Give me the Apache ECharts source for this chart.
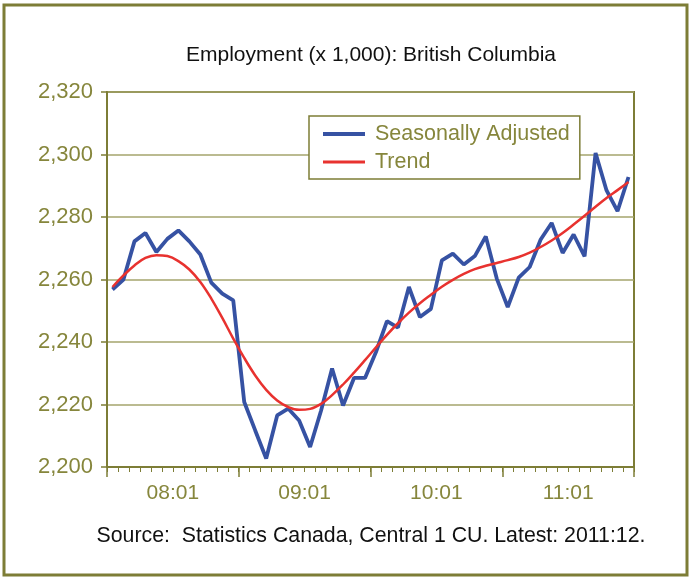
<!DOCTYPE html>
<html>
<head>
<meta charset="utf-8">
<script src="https://cdn.jsdelivr.net/npm/echarts@6/dist/echarts.min.js"></script>
<style>
  html, body { margin: 0; padding: 0; background: #fff; }
  #chart { width: 691px; height: 579px; }
</style>
</head>
<body>
<div id="chart"></div>
<script>
// monthly categories 2008:01 .. 2011:12
const years = ['08', '09', '10', '11']
const months = []
years.forEach(y => {
  for (let m = 1; m <= 12; m++) months.push(y + ':' + String(m).padStart(2, '0'))
})
const yearLabels = ['08:01', '09:01', '10:01', '11:01']

const seasonallyAdjusted = [
  2256.8, 2260.0, 2272.2, 2274.9, 2268.8, 2273.0, 2275.7, 2272.2, 2268.0, 2259.0, 2255.5, 2253.3,
  2220.8, 2211.7, 2202.7, 2216.5, 2218.7, 2214.9, 2206.4, 2218.1, 2231.5, 2219.7, 2228.5, 2228.5,
  2236.8, 2246.7, 2244.6, 2257.6, 2248.0, 2250.6, 2266.1, 2268.3, 2264.8, 2267.5, 2273.8, 2260.3,
  2251.2, 2260.6, 2264.0, 2272.8, 2278.1, 2268.5, 2274.4, 2267.4, 2300.5, 2288.5, 2281.9, 2292.8
]
const trend = [
  2257.6, 2261.3, 2264.5, 2266.9, 2267.8, 2267.5, 2265.9, 2263.2, 2259.2, 2253.9, 2247.7, 2241.1,
  2234.9, 2229.3, 2224.7, 2221.3, 2219.2, 2218.3, 2218.6, 2220.2, 2223.0, 2226.4, 2230.2, 2234.2,
  2238.3, 2242.3, 2246.0, 2249.4, 2252.4, 2255.1, 2257.7, 2259.9, 2261.8, 2263.3, 2264.4, 2265.3,
  2266.2, 2267.2, 2268.6, 2270.4, 2272.5, 2274.9, 2277.6, 2280.4, 2283.3, 2286.1, 2288.6, 2291.2
]

const olive = '#7d7d36'
const oliveText = '#86863c'
const font = 'Liberation Sans, Arial, sans-serif'

const chart = echarts.init(document.getElementById('chart'))

chart.setOption({
  backgroundColor: '#fff',
  animation: false,
  textStyle: { fontFamily: font },
  graphic: [
    {
      type: 'rect',
      shape: { x: 4, y: 5, width: 683, height: 570 },
      style: { fill: 'none', stroke: olive, lineWidth: 3 }
    },
    {
      type: 'text',
      x: 371, y: 55,
      style: {
        text: 'Employment (x 1,000): British Columbia',
        fill: '#111', fontSize: 21, fontFamily: font,
        align: 'center', verticalAlign: 'middle'
      }
    },
    {
      type: 'text',
      x: 371, y: 536,
      style: {
        text: 'Source:  Statistics Canada, Central 1 CU. Latest: 2011:12.',
        fill: '#111', fontSize: 21.3, fontFamily: font,
        align: 'center', verticalAlign: 'middle'
      }
    }
  ],
  grid: {
    left: 107, right: 57, top: 92, bottom: 112,
    show: true, borderColor: olive, borderWidth: 2
  },
  legend: {
    left: 309, top: 116,
    orient: 'vertical',
    backgroundColor: '#fff',
    borderColor: olive, borderWidth: 1.5, borderRadius: 0,
    padding: [7, 10, 6, 12],
    itemGap: 6, itemWidth: 42, itemHeight: 20,
    itemStyle: { opacity: 0 },
    textStyle: { color: oliveText, fontSize: 21.5, fontFamily: font, padding: [0, 0, 0, 5] },
    data: [
      { name: 'Seasonally Adjusted', lineStyle: { width: 4 } },
      { name: 'Trend', lineStyle: { width: 3 } }
    ]
  },
  xAxis: [
    {
      type: 'category',
      data: months,
      boundaryGap: true,
      position: 'bottom',
      axisLine: { lineStyle: { color: olive, width: 2 } },
      axisTick: { show: true, interval: 0, length: 5, lineStyle: { color: olive, width: 1 } },
      axisLabel: { show: false },
      splitLine: { show: false }
    },
    {
      type: 'category',
      data: yearLabels,
      boundaryGap: true,
      position: 'bottom',
      axisLine: { show: false },
      axisTick: { show: true, interval: 0, length: 10, lineStyle: { color: olive, width: 1.5 } },
      axisLabel: { color: oliveText, fontSize: 21, margin: 16, fontFamily: font },
      splitLine: { show: false }
    }
  ],
  yAxis: {
    type: 'value',
    min: 2200, max: 2320, interval: 20,
    axisLine: { show: true, lineStyle: { color: olive, width: 2 } },
    axisTick: { show: true, length: 6, lineStyle: { color: olive, width: 1.5 } },
    axisLabel: {
      color: oliveText, fontSize: 22, margin: 14, fontFamily: font,
      formatter: v => v.toLocaleString('en-US')
    },
    splitLine: { lineStyle: { color: '#a5a56c', width: 1.5 } }
  },
  series: [
    {
      name: 'Seasonally Adjusted',
      type: 'line',
      xAxisIndex: 0,
      data: seasonallyAdjusted,
      symbol: 'none',
      color: '#3652a3',
      lineStyle: { color: '#3652a3', width: 3.8 },
      z: 2
    },
    {
      name: 'Trend',
      type: 'line',
      xAxisIndex: 0,
      data: trend,
      symbol: 'none',
      smooth: 0.4,
      color: '#e8322f',
      lineStyle: { color: '#e8322f', width: 2.5 },
      z: 3
    }
  ]
})
</script>
</body>
</html>
